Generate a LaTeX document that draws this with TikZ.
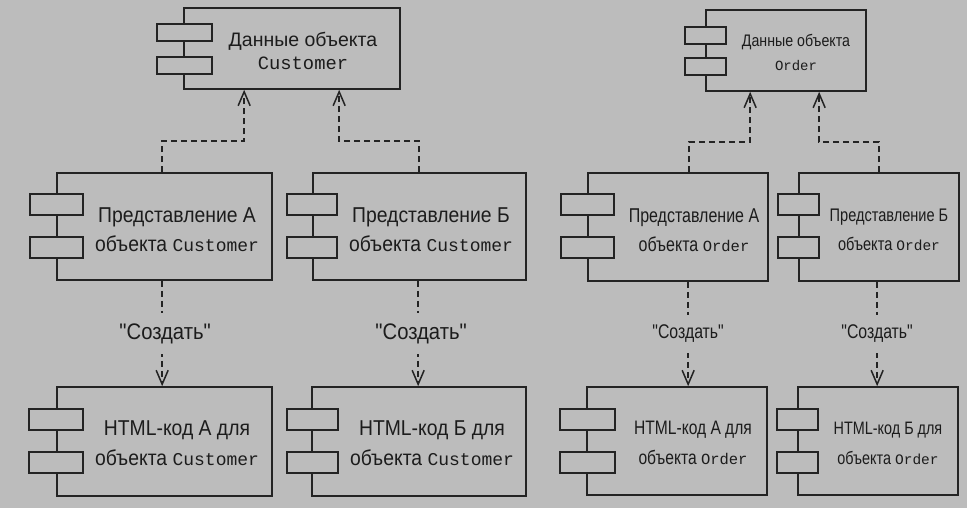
\documentclass[tikz,border=0pt]{standalone}
\usepackage{fontspec}
\setmainfont{Liberation Sans}
\newfontfamily\rusw{Liberation Sans}
\newfontfamily\rus{Liberation Sans}[FakeStretch=0.9]
\newfontfamily\rusn{Liberation Sans}[FakeStretch=0.8]
\newfontfamily\rusm{Liberation Sans}[FakeStretch=0.85]
\newfontfamily\mono{Liberation Mono}
\usetikzlibrary{arrows.meta,fit}
\definecolor{bg}{RGB}{188,188,188}
\definecolor{ink}{RGB}{35,35,35}
\definecolor{tink}{RGB}{28,28,28}
\tikzset{
  box/.style={draw=ink, line width=1.7pt, inner sep=0pt},
  port/.style={draw=ink, line width=1.7pt, fill=bg},
  txt/.style={text=tink, align=center, inner sep=0pt},
  dep/.style={draw=ink, line width=1.5pt, dash pattern=on 6pt off 4pt,
    -{Straight Barb[length=14pt,width=12pt,line width=1.5pt]}},
  lbl/.style={fill=bg, text=tink, inner xsep=2pt, inner ysep=10pt,
    font=\rus\fontsize{22.5}{24}\selectfont},
  lbln/.style={fill=bg, text=tink, inner xsep=2pt, inner ysep=10pt,
    font=\rusn\fontsize{19.8}{24}\selectfont},
}
% name, x1, y1, x2, y2, rx1, rx2, top of port 1, top of port 2 ; port height \ph
\def\ph{21}
\newcommand\compbox[9]{%
  \node[box, fit={(#2,#3)(#4,#5)}] (#1) {};
  \draw[port] (#6,#8) rectangle (#7,{#8+\ph});
  \draw[port] (#6,#9) rectangle (#7,{#9+\ph});
}
\begin{document}
\begin{tikzpicture}[x=1pt,y=-1pt]
\fill[bg] (0,0) rectangle (967,508);
\useasboundingbox (0,0) rectangle (967,508);

% top data boxes
\def\ph{17}
\compbox{cd}{184}{8}{400}{89}{157}{212}{24}{57}
\compbox{od}{706}{10}{866}{91}{685}{726}{27}{58}
\node[txt, font=\rusw\fontsize{19.5}{23}\selectfont] (cdt) at (303,51)
  {Данные объекта\\{\mono\fontsize{18.8}{23}\selectfont Customer}};
\node[txt, font=\rusm\fontsize{16.7}{24}\selectfont] (odt) at (796,52)
  {Данные объекта\\{\mono\fontsize{14}{24}\selectfont Order}};

% views
\def\ph{21}
\compbox{cA}{57}{173}{272}{280}{30}{83}{194}{237}
\compbox{cB}{313}{173}{526}{280}{287}{337}{194}{237}
\compbox{oA}{588}{173}{768}{281}{561}{614}{194}{237}
\compbox{oB}{799}{173}{959}{281}{778}{819}{194}{237}
\node[txt, font=\rus\fontsize{21.5}{29}\selectfont] (cAt) at (177,230)
  {Представление А\\объекта {\mono\fontsize{18}{29}\selectfont Customer}};
\node[txt, font=\rus\fontsize{21.5}{29}\selectfont] (cBt) at (431,230)
  {Представление Б\\объекта {\mono\fontsize{18}{29}\selectfont Customer}};
\node[txt, font=\rusn\fontsize{20}{29}\selectfont] (oAt) at (694,230)
  {Представление А\\объекта {\mono\fontsize{15.5}{29}\selectfont Order}};
\node[txt, font=\rusn\fontsize{18.2}{29}\selectfont] (oBt) at (889,230)
  {Представление Б\\объекта {\mono\fontsize{14.5}{29}\selectfont Order}};

% html
\compbox{hcA}{57}{387}{272}{496}{29}{83}{409}{452}
\compbox{hcB}{312}{387}{526}{496}{287}{338}{409}{452}
\compbox{hoA}{587}{387}{767}{495}{560}{615}{409}{452}
\compbox{hoB}{798}{387}{958}{495}{777}{818}{409}{452}
\node[txt, font=\rus\fontsize{21.5}{30}\selectfont] (hcAt) at (177,443)
  {HTML-код А для\\объекта {\mono\fontsize{18}{30}\selectfont Customer}};
\node[txt, font=\rus\fontsize{21.5}{30}\selectfont] (hcBt) at (432,443)
  {HTML-код Б для\\объекта {\mono\fontsize{18}{30}\selectfont Customer}};
\node[txt, font=\rusn\fontsize{19.5}{30}\selectfont] (hoAt) at (693,443)
  {HTML-код А для\\объекта {\mono\fontsize{15.5}{30}\selectfont Order}};
\node[txt, font=\rusn\fontsize{18}{30}\selectfont] (hoBt) at (888,443)
  {HTML-код Б для\\объекта {\mono\fontsize{14.5}{30}\selectfont Order}};

% dependencies to data
\draw[dep] ([xshift=106pt]cA.north west) -- ++(0,-31) -| ([xshift=61pt]cd.south west);
\draw[dep] ([xshift=107pt]cB.north west) -- ++(0,-31) -| ([xshift=156pt]cd.south west);
\draw[dep] ([xshift=102pt]oA.north west) -- ++(0,-30) -| ([xshift=45pt]od.south west);
\draw[dep] ([xshift=81pt]oB.north west) -- ++(0,-30) -| ([xshift=114pt]od.south west);

% create
\draw[dep] ([xshift=106pt]cA.south west) -- node[lbl, xshift=3pt] {"Создать"} ([xshift=106pt]hcA.north west);
\draw[dep] ([xshift=106pt]cB.south west) -- node[lbl, xshift=3pt] {"Создать"} ([xshift=107pt]hcB.north west);
\draw[dep] ([xshift=101pt]oA.south west) -- node[lbln] {"Создать"} ([xshift=102pt]hoA.north west);
\draw[dep] ([xshift=79pt]oB.south west) -- node[lbln] {"Создать"} ([xshift=80pt]hoB.north west);
\end{tikzpicture}
\end{document}
